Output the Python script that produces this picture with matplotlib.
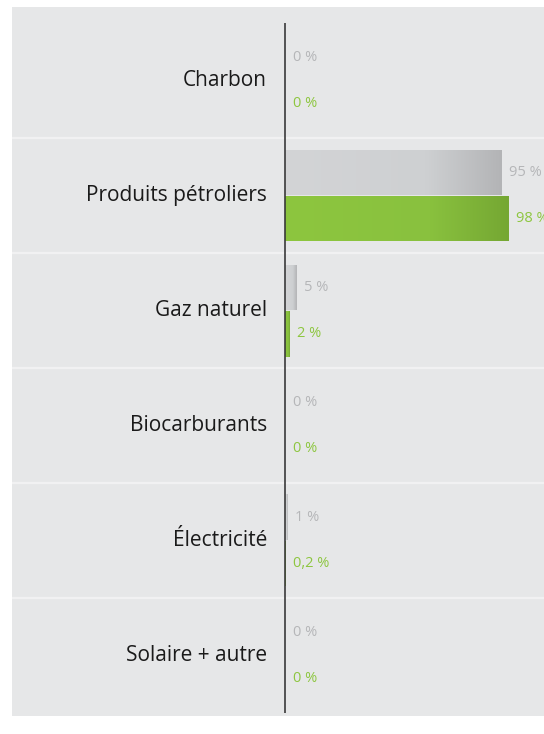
import matplotlib
matplotlib.use("Agg")
import matplotlib.pyplot as plt
import numpy as np
from matplotlib.colors import LinearSegmentedColormap

# data
categories = ["Charbon", "Produits pétroliers", "Gaz naturel",
              "Biocarburants", "Électricité", "Solaire + autre"]
gray_values = [0, 95, 5, 0, 1, 0]
green_values = [0, 98, 2, 0, 0.2, 0]
gray_labels = ["0 %", "95 %", "5 %", "0 %", "1 %", "0 %"]
green_labels = ["0 %", "98 %", "2 %", "0 %", "0,2 %", "0 %"]

W, H = 544, 734
fig = plt.figure(figsize=(W / 100, H / 100), dpi=100, facecolor="white")

# grey panel behind the chart
bg = fig.add_axes([12 / W, 1 - 716 / H, (W - 12) / W, (716 - 7) / H], zorder=0)
bg.set_facecolor("#e6e7e8")
bg.set_axis_off()
bg.add_artist(bg.patch)
bg.patch.set_visible(True)

ax = fig.add_axes([12 / W, 1 - 713 / H, (W - 12) / W, (713 - 23) / H], zorder=1)
ax.set_facecolor("none")
px = 2.28  # pixels per percent
for s in ax.spines.values():
    s.set_visible(False)
ax.set_xticks([])
ax.set_yticks([])

gray_cmap = LinearSegmentedColormap.from_list(
    "g", [(0, "#d3d4d6"), (0.65, "#ced0d2"), (1, "#b3b4b6")])
green_cmap = LinearSegmentedColormap.from_list(
    "v", [(0, "#8dc63f"), (0.65, "#89c13e"), (1, "#75a733")])

bh = 0.4
y = np.arange(len(categories)) + 0.5


def gradient_bars(vals, ypos, cmap):
    bars = ax.barh(ypos, vals, height=bh, color="none", edgecolor="none", zorder=2)
    grad = np.linspace(0, 1, 256).reshape(1, -1)
    for b, v in zip(bars, vals):
        if v <= 0:
            continue
        x0, y0 = b.get_x(), b.get_y()
        im = ax.imshow(grad, cmap=cmap, aspect="auto", zorder=2,
                       extent=[x0, x0 + b.get_width(), y0 + b.get_height(), y0])
        im.set_clip_path(b)
    return bars


gradient_bars(gray_values, y - bh / 2, gray_cmap)
gradient_bars(green_values, y + bh / 2, green_cmap)
ax.set_xlim(-(285 - 12) / px, (W - 285) / px)
ax.set_ylim(len(categories), 0)

# band separators and axis line
for k in range(1, len(categories)):
    ax.axhline(k, color="#f1f1f2", lw=1.6, zorder=1)
ax.axvline(0, color="#3a3a3a", lw=1.2, zorder=3)

font = "Open Sans"
for yi, cat in zip(y, categories):
    ax.annotate(cat, (0, yi), xytext=(-13, 0), textcoords="offset points",
                ha="right", va="center", fontsize=15, color="#1a1a1a",
                family=font)

for yi, v, lab in zip(y, gray_values, gray_labels):
    ax.annotate(lab, (v, yi - bh / 2), xytext=(5.5, 0), textcoords="offset points",
                ha="left", va="center", fontsize=10.5, color="#b5b6b8",
                family=font, annotation_clip=False)
for yi, v, lab in zip(y, green_values, green_labels):
    ax.annotate(lab, (v, yi + bh / 2), xytext=(5.5, 0), textcoords="offset points",
                ha="left", va="center", fontsize=10.5, color="#8dc63f",
                family=font, annotation_clip=False)

fig.savefig("out.png", dpi=100, facecolor="white")
